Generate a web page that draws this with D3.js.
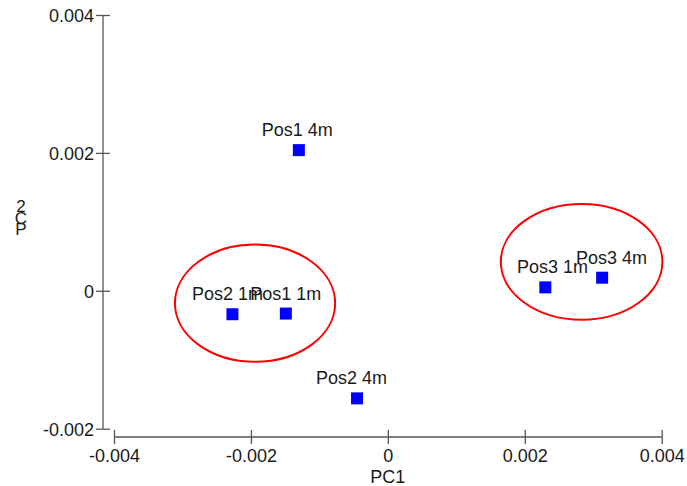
<!DOCTYPE html>
<html>
<head>
<meta charset="utf-8">
<script src="https://cdn.jsdelivr.net/npm/d3@7"></script>
<style>
  html, body { margin: 0; padding: 0; background: #fff; }
  svg { display: block; font-family: "Liberation Sans", Arial, sans-serif; }
</style>
</head>
<body>
<svg id="chart" width="687" height="486"></svg>
<script>
// Sample scores on the first two principal components
const labels = ["Pos1 4m", "Pos2 4m", "Pos2 1m", "Pos1 1m", "Pos3 1m", "Pos3 4m"];
const pc1 = [-0.00130, -0.00045, -0.00227, -0.00149, 0.00230, 0.00313];
const pc2 = [0.00204, -0.00156, -0.00034, -0.00033, 0.00005, 0.00019];

// Group ellipses: centre and radii in PC units
const ellipseCx = [-0.00194, 0.00283];
const ellipseCy = [-0.00018, 0.00042];
const ellipseRx = [0.00117, 0.00118];
const ellipseRy = [0.00085, 0.00084];

const xTicks = [-0.004, -0.002, 0, 0.002, 0.004];
const yTicks = [-0.002, 0, 0.002, 0.004];
const xTitle = "PC1";
const yTitle = "PC2";

// Horizontal nudges for the point labels (px), to keep overlapping names readable
const labelShift = [-1.5, -5.5, -5, 0, 7.3, 9.3];

const svg = d3.select("#chart");
const x = d3.scaleLinear().domain([-0.004, 0.004]).range([114, 661.7]);
const y = d3.scaleLinear().domain([-0.002, 0.004]).range([428.7, 15]);

const fmt = d => d === 0 ? "0" : d3.format(".3f")(d).replace("−", "-");
const axisColor = "#555";
const textColor = "#1a1a1a";

// Y axis
const yAxisX = 103;
const yAx = svg.append("g").attr("transform", `translate(${yAxisX},0)`)
  .call(d3.axisLeft(y).tickValues(yTicks).tickFormat(fmt).tickSize(7).tickSizeOuter(0));
yAx.select(".domain").remove();
yAx.append("line").attr("x1", 0).attr("x2", 0)
  .attr("y1", y(0.004)).attr("y2", y(-0.002))
  .attr("stroke", axisColor).attr("stroke-width", 1.3);
yAx.selectAll(".tick line").attr("x1", -7).attr("x2", 7)
  .attr("stroke", axisColor).attr("stroke-width", 1.3);
yAx.selectAll(".tick text").attr("x", -9).attr("dy", "0.35em")
  .attr("font-size", 18).attr("fill", textColor)
  .attr("font-family", "Liberation Sans, Arial, sans-serif");

// X axis
const xAxisY = 437;
const xAx = svg.append("g").attr("transform", `translate(0,${xAxisY})`)
  .call(d3.axisBottom(x).tickValues(xTicks).tickFormat(fmt).tickSize(7).tickSizeOuter(0));
xAx.select(".domain").remove();
xAx.append("line").attr("y1", 0).attr("y2", 0)
  .attr("x1", x(-0.004)).attr("x2", x(0.004))
  .attr("stroke", axisColor).attr("stroke-width", 1.3);
xAx.selectAll(".tick line").attr("y1", -7).attr("y2", 7)
  .attr("stroke", axisColor).attr("stroke-width", 1.3);
xAx.selectAll(".tick text").attr("y", 25).attr("dy", 0)
  .attr("font-size", 18).attr("fill", textColor)
  .attr("font-family", "Liberation Sans, Arial, sans-serif");

// Axis titles
svg.append("text").attr("x", x(0)).attr("y", 483)
  .attr("text-anchor", "middle").attr("font-size", 18).attr("fill", textColor)
  .text(xTitle);

// Y title: characters stacked upright, last character on top
const yChars = yTitle.split("").reverse();
svg.append("g").selectAll("text").data(yChars).join("text")
  .attr("x", 21).attr("y", (d, i) => 212 + i * 11.5)
  .attr("text-anchor", "middle").attr("font-size", 17).attr("fill", textColor)
  .text(d => d);

// Group ellipses
svg.append("g").selectAll("ellipse").data(ellipseCx).join("ellipse")
  .attr("cx", d => x(d))
  .attr("cy", (d, i) => y(ellipseCy[i]))
  .attr("rx", (d, i) => x(ellipseRx[i]) - x(0))
  .attr("ry", (d, i) => y(0) - y(ellipseRy[i]))
  .attr("fill", "none").attr("stroke", "#ff0000").attr("stroke-width", 2);

// Points
const side = 12;
svg.append("g").selectAll("rect").data(labels).join("rect")
  .attr("x", (d, i) => x(pc1[i]) - side / 2)
  .attr("y", (d, i) => y(pc2[i]) - side / 2)
  .attr("width", side).attr("height", side)
  .attr("fill", "#0000ff");

// Point labels
svg.append("g").selectAll("text").data(labels).join("text")
  .attr("x", (d, i) => x(pc1[i]) + labelShift[i])
  .attr("y", (d, i) => y(pc2[i]) - 14)
  .attr("text-anchor", "middle").attr("font-size", 18).attr("fill", textColor)
  .text(d => d);
</script>
</body>
</html>
